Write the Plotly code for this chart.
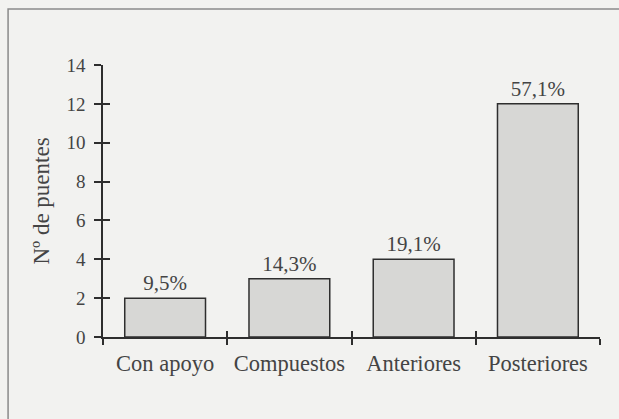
import plotly.graph_objects as go

categories = ["Con apoyo", "Compuestos", "Anteriores", "Posteriores"]
values = [2, 3, 4, 12]
percent_labels = ["9,5%", "14,3%", "19,1%", "57,1%"]
y_ticks = [0, 2, 4, 6, 8, 10, 12, 14]

FONT = "Liberation Serif"
TXT = "#444444"
AX = "#2e2e2e"
BG = "#f2f2f0"

fig = go.Figure()
fig.add_trace(go.Bar(
    x=categories, y=values, text=percent_labels, textposition="outside",
    textfont=dict(family=FONT, size=21, color=TXT),
    marker=dict(color="#d7d7d5", line=dict(color=AX, width=1.5)),
    cliponaxis=False, hoverinfo="skip", showlegend=False,
))
# invisible trace to carry the overlay axes (inner halves of the crossing ticks)
fig.add_trace(go.Scatter(
    x=categories, y=values, xaxis="x2", yaxis="y2", mode="markers",
    marker=dict(opacity=0), hoverinfo="skip", showlegend=False,
))

fig.update_layout(
    width=619, height=419,
    margin=dict(l=103, r=19, t=65, b=82),
    paper_bgcolor=BG, plot_bgcolor=BG,
    bargap=0.35,
    font=dict(family=FONT, color=TXT, size=21),
    xaxis=dict(
        type="category", categoryarray=categories, range=[-0.5, 3.5],
        showline=True, linecolor=AX, linewidth=1.5,
        ticks="outside", tickson="boundaries", ticklen=6, tickwidth=1.5, tickcolor=AX,
        ticklabelstandoff=5,
        showgrid=False, zeroline=False,
        tickfont=dict(family=FONT, size=22.5, color=TXT),
    ),
    yaxis=dict(
        range=[0, 14], tickvals=y_ticks,
        showline=True, linecolor=AX, linewidth=1.5,
        ticks="outside", ticklen=7, tickwidth=1.5, tickcolor=AX,
        ticklabelstandoff=5,
        showgrid=False, zeroline=False,
        tickfont=dict(family=FONT, size=19, color=TXT),
        title=dict(text="Nº de puentes", font=dict(family=FONT, size=23, color=TXT), standoff=10),
    ),
    xaxis2=dict(
        type="category", categoryarray=categories, range=[-0.5, 3.5],
        overlaying="x", side="bottom", showline=False,
        ticks="inside", tickson="boundaries", ticklen=6, tickwidth=1.5, tickcolor=AX,
        showticklabels=False, showgrid=False, zeroline=False,
    ),
    yaxis2=dict(
        range=[0, 14], tickvals=y_ticks, overlaying="y", side="left", showline=False,
        ticks="inside", ticklen=7, tickwidth=1.5, tickcolor=AX,
        showticklabels=False, showgrid=False, zeroline=False,
    ),
    shapes=[dict(
        type="rect", xref="paper", yref="paper",
        x0=-0.191, x1=1.06, y0=-0.35, y1=1.206,
        line=dict(color="#8a8a8a", width=1.5), fillcolor="rgba(0,0,0,0)", layer="below",
    )],
)

fig.write_html(
    "out.html",
    config={"displayModeBar": False},
    post_script="document.body.style.margin='0';document.body.style.background='%s';" % BG,
)
